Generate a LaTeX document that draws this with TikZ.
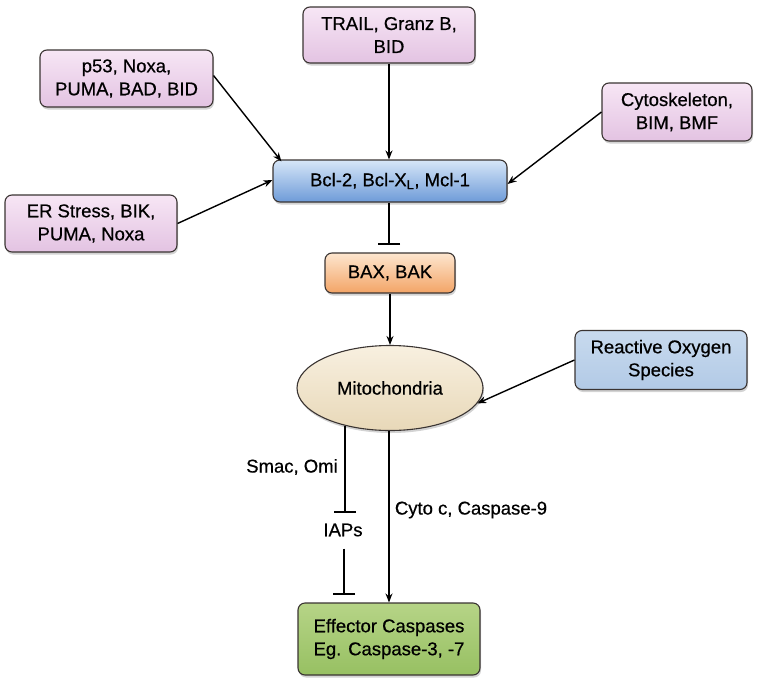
\documentclass[tikz,border=0pt]{standalone}
\usepackage{fontspec}
\setmainfont{Liberation Sans}[FakeBold=0.6]
\usetikzlibrary{arrows.meta,shapes.geometric,shadows}
\definecolor{pinkA}{HTML}{F7E6F5}
\definecolor{pinkB}{HTML}{E3C3E2}
\definecolor{blueA}{HTML}{D6E6F8}
\definecolor{blueB}{HTML}{6E9BD8}
\definecolor{orA}{HTML}{FDE6CF}
\definecolor{orB}{HTML}{F3A466}
\definecolor{beA}{HTML}{F8F0E0}
\definecolor{beB}{HTML}{E8D8B8}
\definecolor{rosA}{HTML}{C8DAEE}
\definecolor{rosB}{HTML}{B2CAE6}
\definecolor{grA}{HTML}{B6D487}
\definecolor{grB}{HTML}{97C062}
\definecolor{edge}{HTML}{3A3432}
\tikzset{
  basebox/.style={rectangle, rounded corners=7pt, draw=edge, line width=1.1pt,
    align=center, inner sep=0pt, font=\fontsize{18.5}{23}\selectfont,
    drop shadow={opacity=0.35, shadow xshift=1pt, shadow yshift=-2.5pt}},
  pinkbox/.style={basebox, top color=pinkA, bottom color=pinkB},
  bluebox/.style={basebox, top color=blueA, bottom color=blueB},
  orbox/.style={basebox, top color=orA, bottom color=orB},
  rosbox/.style={basebox, top color=rosA, bottom color=rosB},
  grbox/.style={basebox, top color=grA, bottom color=grB},
  mitostyle/.style={ellipse, draw=edge, line width=1.1pt, top color=beA, bottom color=beB,
    inner sep=0pt, font=\fontsize{18.5}{23}\selectfont,
    drop shadow={opacity=0.35, shadow xshift=1pt, shadow yshift=-2.5pt}},
  lbl/.style={font=\fontsize{18.5}{23}\selectfont, inner sep=0pt},
  act/.style={line width=1.4pt, -{Stealth[length=9pt,width=7pt]}},
  inhib/.style={line width=1.4pt, -{Bar[width=22pt,line width=1.6pt]}},
}
\begin{document}
\begin{tikzpicture}[x=1pt,y=-1pt]
\useasboundingbox (0,0) rectangle (765,680);
\node[pinkbox, minimum width=172pt, minimum height=56pt] (trail) at (389,35) {TRAIL, Granz B,\\BID};
\node[pinkbox, minimum width=173pt, minimum height=57pt] (p53) at (126.5,78.5) {p53, Noxa,\\PUMA, BAD, BID};
\node[pinkbox, minimum width=150pt, minimum height=58pt] (cyto) at (677,112) {Cytoskeleton,\\BIM, BMF};
\node[bluebox, minimum width=234pt, minimum height=42pt] (bcl) at (390,181) {Bcl-2, Bcl-X\textsubscript{L}, Mcl-1};
\node[pinkbox, minimum width=172pt, minimum height=57pt] (er) at (91,223.5) {ER Stress, BIK,\\PUMA, Noxa};
\node[orbox, minimum width=130pt, minimum height=40pt] (bax) at (390,273) {BAX, BAK};
\node[mitostyle, minimum width=186pt, minimum height=85pt] (mito) at (390,388) {Mitochondria};
\node[rosbox, minimum width=172pt, minimum height=59pt] (ros) at (661,360) {Reactive Oxygen\\Species};
\node[grbox, minimum width=182pt, minimum height=72pt] (eff) at (389,639) {Effector Caspases\\Eg. Caspase-3, -7};
\node[lbl] (smac) at (292,467) {Smac, Omi};
\node[lbl] (cytoc) at (471,510) {Cyto c, Caspase-9};
\node[lbl] (iaps) at (343,530) {IAPs};
\coordinate (barA) at (389,245);
\coordinate (barB) at (345,513);
\coordinate (barC) at (344,595);
\draw[act] (trail.south) -- (trail.south |- bcl.north);
\draw[act] ([yshift=3pt]p53.east) -- ([xshift=9pt,yshift=-2pt]bcl.north west);
\draw[act] (er.east) -- ([yshift=1pt]bcl.west);
\draw[act] (cyto.west) -- ([yshift=-3pt]bcl.east);
\draw[inhib] (bcl.south -| barA) -- (barA);
\draw[act] (bax.south) -- (mito.north);
\draw[act] (ros.west) -- (mito.-10);
\draw[inhib] (mito.220 -| barB) -- (barB);
\draw[act] (mito.south -| eff.north) -- (eff.north);
\draw[inhib] ([yshift=-12pt]iaps.south -| barC) -- (barC);
\end{tikzpicture}
\end{document}
